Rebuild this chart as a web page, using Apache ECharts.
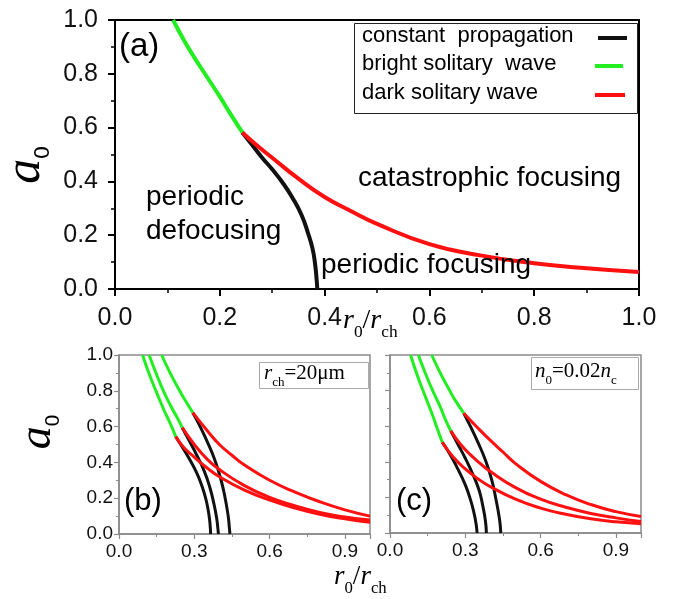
<!DOCTYPE html>
<html>
<head>
<meta charset="utf-8">
<script src="https://cdn.jsdelivr.net/npm/echarts@6/dist/echarts.min.js"></script>
<style>
  html, body { margin: 0; padding: 0; background: #fff; }
  #chart { width: 676px; height: 599px; }
</style>
</head>
<body>
<div id="chart"></div>
<script>
// tick labels
const tickA = [0, 0.2, 0.4, 0.6, 0.8, 1.0];
const tickBC = [0, 0.3, 0.6, 0.9];

// panel (a): [r0/rch, a0]
const aGreen = [[0.111, 1.0], [0.13, 0.93], [0.15, 0.865], [0.175, 0.79], [0.2, 0.715], [0.22, 0.652], [0.243, 0.582]];
const aBlack = [[0.243, 0.582], [0.26, 0.54], [0.28, 0.49], [0.30, 0.445], [0.32, 0.395], [0.34, 0.335], [0.356, 0.275], [0.368, 0.21], [0.377, 0.15], [0.382, 0.09], [0.385, 0.03], [0.386, 0.0]];
const aRed = [[0.243, 0.582], [0.27, 0.535], [0.30, 0.488], [0.35, 0.41], [0.40, 0.342], [0.45, 0.29], [0.50, 0.242], [0.60, 0.167], [0.70, 0.124], [0.80, 0.096], [0.90, 0.077], [1.0, 0.063]];

// panel (b), three curves
const b1Green = [[0.094, 1.0], [0.12, 0.895], [0.15, 0.79], [0.18, 0.69], [0.205, 0.615], [0.226, 0.544]];
const b1Black = [[0.226, 0.544], [0.25, 0.49], [0.28, 0.42], [0.31, 0.34], [0.33, 0.27], [0.347, 0.19], [0.358, 0.11], [0.363, 0.05], [0.365, 0]];
const b1Red = [[0.226, 0.544], [0.26, 0.48], [0.30, 0.43], [0.35, 0.37], [0.40, 0.32], [0.50, 0.245], [0.60, 0.19], [0.70, 0.145], [0.80, 0.11], [0.90, 0.085], [1.0, 0.065]];
const b2Green = [[0.12, 1.0], [0.15, 0.89], [0.18, 0.79], [0.21, 0.705], [0.232, 0.65], [0.252, 0.594]];
const b2Black = [[0.252, 0.594], [0.28, 0.52], [0.31, 0.44], [0.34, 0.35], [0.362, 0.26], [0.378, 0.17], [0.389, 0.09], [0.394, 0.03], [0.396, 0]];
const b2Red = [[0.252, 0.594], [0.30, 0.50], [0.35, 0.42], [0.40, 0.36], [0.50, 0.27], [0.60, 0.205], [0.70, 0.158], [0.80, 0.12], [0.90, 0.095], [1.0, 0.078]];
const b3Green = [[0.17, 1.0], [0.2, 0.91], [0.23, 0.83], [0.26, 0.755], [0.294, 0.678]];
const b3Black = [[0.294, 0.678], [0.32, 0.61], [0.35, 0.52], [0.38, 0.42], [0.405, 0.31], [0.423, 0.2], [0.435, 0.1], [0.44, 0.03], [0.442, 0]];
const b3Red = [[0.294, 0.678], [0.35, 0.58], [0.40, 0.50], [0.45, 0.44], [0.50, 0.385], [0.60, 0.30], [0.70, 0.235], [0.80, 0.18], [0.90, 0.135], [1.0, 0.10]];

// panel (c), three curves
const c1Green = [[0.082, 1.0], [0.11, 0.88], [0.14, 0.77], [0.17, 0.66], [0.19, 0.58], [0.208, 0.51]];
const c1Black = [[0.208, 0.51], [0.24, 0.44], [0.27, 0.36], [0.30, 0.27], [0.32, 0.19], [0.335, 0.11], [0.343, 0.05], [0.347, 0]];
const c1Red = [[0.208, 0.51], [0.25, 0.43], [0.30, 0.36], [0.35, 0.305], [0.40, 0.26], [0.50, 0.19], [0.60, 0.14], [0.70, 0.105], [0.80, 0.08], [0.90, 0.063], [1.0, 0.052]];
const c2Green = [[0.113, 1.0], [0.14, 0.9], [0.17, 0.8], [0.20, 0.71], [0.22, 0.64], [0.242, 0.574]];
const c2Black = [[0.242, 0.574], [0.27, 0.5], [0.30, 0.42], [0.33, 0.33], [0.355, 0.24], [0.37, 0.15], [0.38, 0.07], [0.384, 0]];
const c2Red = [[0.242, 0.574], [0.28, 0.5], [0.32, 0.44], [0.36, 0.39], [0.40, 0.345], [0.50, 0.255], [0.60, 0.19], [0.70, 0.145], [0.80, 0.11], [0.90, 0.085], [1.0, 0.065]];
const c3Green = [[0.166, 1.0], [0.2, 0.9], [0.23, 0.82], [0.26, 0.745], [0.294, 0.673]];
const c3Black = [[0.294, 0.673], [0.32, 0.6], [0.35, 0.51], [0.38, 0.41], [0.405, 0.3], [0.422, 0.19], [0.435, 0.09], [0.44, 0.03], [0.441, 0]];
const c3Red = [[0.294, 0.673], [0.35, 0.59], [0.40, 0.52], [0.45, 0.455], [0.50, 0.39], [0.60, 0.29], [0.70, 0.215], [0.80, 0.16], [0.90, 0.12], [1.0, 0.093]];

const legendNames = ['constant  propagation', 'bright solitary  wave', 'dark solitary wave'];
const colors = ['#111111', '#22ee22', '#ff1010'];

const curvesA = [[aGreen, aBlack, aRed]];
const curvesB = [[b1Green, b1Black, b1Red], [b2Green, b2Black, b2Red], [b3Green, b3Black, b3Red]];
const curvesC = [[c1Green, c1Black, c1Red], [c2Green, c2Black, c2Red], [c3Green, c3Black, c3Red]];

const sans = 'Liberation Sans, Arial, sans-serif';
const serif = 'Liberation Serif, Times New Roman, serif';

function fmt(v) { return v.toFixed(1); }

function xAxisFor(idx, big) {
    const line = big ? '#000' : '#8a8a8a';
    return {
        type: 'value', gridIndex: idx, min: 0, max: 1,
        interval: big ? tickA[1] : tickBC[1],
        axisLine: { onZero: false, lineStyle: { color: line, width: big ? 2 : 1.5 } },
        axisTick: { length: big ? 7 : 5, lineStyle: { color: line, width: big ? 2 : 1.2 } },
        minorTick: { show: true, splitNumber: 2, length: big ? 4 : 3, lineStyle: { color: line, width: big ? 1.5 : 1 } },
        splitLine: { show: false },
        axisLabel: {
            color: '#111', fontFamily: sans, fontSize: big ? 25 : 19, margin: big ? 17 : 8,
            showMaxLabel: big, formatter: fmt
        }
    };
}

function yAxisFor(idx, big, labels) {
    const line = big ? '#000' : '#8a8a8a';
    return {
        type: 'value', gridIndex: idx, min: 0, max: 1, interval: 0.2,
        axisLine: { onZero: false, lineStyle: { color: line, width: big ? 2 : 1.5 } },
        axisTick: { length: big ? 7 : 5, lineStyle: { color: line, width: big ? 2 : 1.2 } },
        minorTick: { show: true, splitNumber: 2, length: big ? 4 : 3, lineStyle: { color: line, width: big ? 1.5 : 1 } },
        splitLine: { show: false },
        axisLabel: {
            show: labels, color: '#111', fontFamily: sans, fontSize: big ? 25 : 19, margin: big ? 17 : 6, formatter: fmt
        }
    };
}

const series = [];
function addCurves(curves, idx, width) {
    curves.forEach(function (set) {
        set.forEach(function (pts, k) {
            series.push({
                type: 'line', xAxisIndex: idx, yAxisIndex: idx,
                name: legendNames[[1, 0, 2][k]],
                data: pts, smooth: 0.5, showSymbol: false, silent: true,
                lineStyle: { color: colors[[1, 0, 2][k]], width: width },
                z: [3, 2, 4][k]
            });
        });
    });
}
addCurves(curvesA, 0, 4);
addCurves(curvesB, 1, 3);
addCurves(curvesC, 2, 3);

function sub(x, y, parts, size) {
    // r0/rch style title built from rich text
    return {
        type: 'text', x: x, y: y, z: 50,
        style: {
            text: parts, fill: '#000',
            rich: {
                i: { fontFamily: serif, fontStyle: 'italic', fontSize: size, lineHeight: size, verticalAlign: 'top' },
                n: { fontFamily: serif, fontSize: size, lineHeight: size, verticalAlign: 'top' },
                s: { fontFamily: serif, fontSize: size * 0.62, lineHeight: size * 0.62, padding: [size * 0.62, 0, 0, 0], verticalAlign: 'top' }
            }
        }
    };
}

function yName(x, y, size) {
    return {
        type: 'text', x: x, y: y, rotation: Math.PI / 2, z: 50,
        style: {
            text: '{a|a}{s|0}', fill: '#000', align: 'center', verticalAlign: 'middle',
            rich: {
                a: { fontFamily: serif, fontStyle: 'italic', fontSize: size, lineHeight: size, verticalAlign: 'top' },
                s: { fontFamily: sans, fontSize: size * 0.45, lineHeight: size * 0.45, padding: [size * 0.6, 0, 0, 0], verticalAlign: 'top' }
            }
        }
    };
}

function label(x, y, text, size) {
    return { type: 'text', x: x, y: y, z: 50, style: { text: text, fill: '#000', fontFamily: sans, fontSize: size } };
}

const legendRows = [38, 66, 95];
const graphic = [
    // legend box of panel (a)
    { type: 'rect', shape: { x: 354.5, y: 23.5, width: 283, height: 90 }, style: { fill: '#fff', stroke: '#222', lineWidth: 1 }, z: 40 },
    label(362, 25, legendNames[0], 22),
    label(362, 53, legendNames[1], 22),
    label(362, 82, legendNames[2], 22),
    { type: 'line', shape: { x1: 598, y1: legendRows[0], x2: 627, y2: legendRows[0] }, style: { stroke: colors[0], lineWidth: 4 }, z: 41 },
    { type: 'line', shape: { x1: 595, y1: legendRows[1], x2: 623, y2: legendRows[1] }, style: { stroke: colors[1], lineWidth: 4 }, z: 41 },
    { type: 'line', shape: { x1: 595, y1: legendRows[2], x2: 625, y2: legendRows[2] }, style: { stroke: colors[2], lineWidth: 4 }, z: 41 },
    // region annotations
    label(119, 30, '(a)', 33),
    label(146, 183, 'periodic', 28),
    label(146, 217, 'defocusing', 28),
    label(358, 164, 'catastrophic focusing', 28),
    label(321, 251, 'periodic focusing', 28),
    label(124, 486, '(b)', 31),
    label(396, 486, '(c)', 31),
    // parameter boxes
    { type: 'rect', shape: { x: 259.5, y: 362.5, width: 109, height: 26 }, style: { fill: '#fff', stroke: '#aaa', lineWidth: 1 }, z: 40 },
    sub(264, 363, '{i|r}{s|ch}{n|=20μm}', 21),
    { type: 'rect', shape: { x: 531.5, y: 357.5, width: 107, height: 32 }, style: { fill: '#fff', stroke: '#aaa', lineWidth: 1 }, z: 40 },
    sub(535, 361, '{i|n}{s|0}{n|=0.02}{i|n}{s|c}', 21),
    // axis titles
    sub(343, 307, '{i|r}{s|0}{n|/}{i|r}{s|ch}', 28),
    sub(334, 563, '{i|r}{s|0}{n|/}{i|r}{s|ch}', 27),
    yName(26, 165, 50),
    yName(38, 432, 46)
];

const chart = echarts.init(document.getElementById('chart'));
chart.setOption({
    animation: false,
    backgroundColor: '#fff',
    grid: [
        { left: 115, top: 20, width: 524, height: 269, show: true, borderColor: '#000', borderWidth: 2, backgroundColor: 'transparent' },
        { left: 119, top: 355, width: 251, height: 179, show: true, borderColor: '#8a8a8a', borderWidth: 1.5, backgroundColor: 'transparent' },
        { left: 390, top: 355, width: 251, height: 178, show: true, borderColor: '#8a8a8a', borderWidth: 1.5, backgroundColor: 'transparent' }
    ],
    xAxis: [xAxisFor(0, true), xAxisFor(1, false), xAxisFor(2, false)],
    yAxis: [yAxisFor(0, true, true), yAxisFor(1, false, true), yAxisFor(2, false, false)],
    series: series,
    graphic: graphic
});
</script>
</body>
</html>
